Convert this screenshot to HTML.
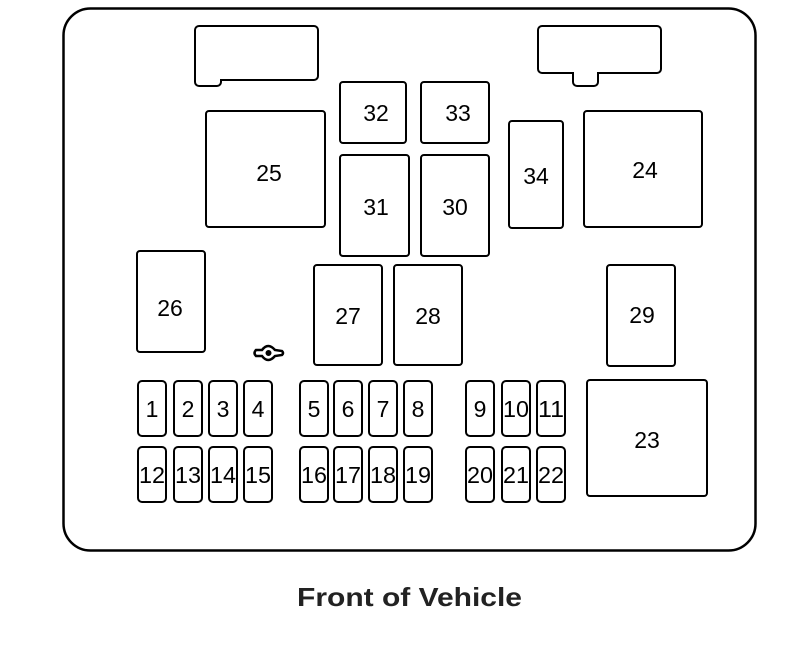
<!DOCTYPE html>
<html><head><style>html,body{margin:0;padding:0;background:#fff}svg{display:block}</style></head><body>
<svg width="799" height="672" viewBox="0 0 799 672" xmlns="http://www.w3.org/2000/svg" font-family="Liberation Sans, sans-serif">
<g fill="none" stroke="#000">
<rect x="63.5" y="8.5" width="692" height="542" rx="27" stroke-width="2.5"/>
<path d="M199 26 H314 a4 4 0 0 1 4 4 V76 a4 4 0 0 1 -4 4 H221 V82 a4 4 0 0 1 -4 4 H199 a4 4 0 0 1 -4 -4 V30 a4 4 0 0 1 4 -4 Z" stroke-width="2"/>
<path d="M542 26 H657 a4 4 0 0 1 4 4 V69 a4 4 0 0 1 -4 4 H598 V82 a4 4 0 0 1 -4 4 H577 a4 4 0 0 1 -4 -4 V73 H542 a4 4 0 0 1 -4 -4 V30 a4 4 0 0 1 4 -4 Z" stroke-width="2"/>
<g stroke-width="2">
<rect x="206" y="111" width="119" height="116" rx="3"/>
<rect x="340" y="82" width="66" height="61" rx="3"/>
<rect x="421" y="82" width="68" height="61" rx="3"/>
<rect x="340" y="155" width="69" height="101" rx="3"/>
<rect x="421" y="155" width="68" height="101" rx="3"/>
<rect x="509" y="121" width="54" height="107" rx="3"/>
<rect x="584" y="111" width="118" height="116" rx="3"/>
<rect x="137" y="251" width="68" height="101" rx="3"/>
<rect x="314" y="265" width="68" height="100" rx="3"/>
<rect x="394" y="265" width="68" height="100" rx="3"/>
<rect x="607" y="265" width="68" height="101" rx="3"/>
<rect x="587" y="380" width="120" height="116" rx="3"/>
</g>
<g stroke-width="2">
<rect x="138" y="381" width="28" height="55" rx="4"/><rect x="174" y="381" width="28" height="55" rx="4"/><rect x="209" y="381" width="28" height="55" rx="4"/><rect x="244" y="381" width="28" height="55" rx="4"/>
<rect x="300" y="381" width="28" height="55" rx="4"/><rect x="334" y="381" width="28" height="55" rx="4"/><rect x="369" y="381" width="28" height="55" rx="4"/><rect x="404" y="381" width="28" height="55" rx="4"/>
<rect x="466" y="381" width="28" height="55" rx="4"/><rect x="502" y="381" width="28" height="55" rx="4"/><rect x="537" y="381" width="28" height="55" rx="4"/>
<rect x="138" y="447" width="28" height="55" rx="4"/><rect x="174" y="447" width="28" height="55" rx="4"/><rect x="209" y="447" width="28" height="55" rx="4"/><rect x="244" y="447" width="28" height="55" rx="4"/>
<rect x="300" y="447" width="28" height="55" rx="4"/><rect x="334" y="447" width="28" height="55" rx="4"/><rect x="369" y="447" width="28" height="55" rx="4"/><rect x="404" y="447" width="28" height="55" rx="4"/>
<rect x="466" y="447" width="28" height="55" rx="4"/><rect x="502" y="447" width="28" height="55" rx="4"/><rect x="537" y="447" width="28" height="55" rx="4"/>
</g>
<path d="M262 350 Q268 342 275 350 L282 351 Q284 353 282 355 L275 356 Q268 364 262 356 L256 356 Q253 353 256 350 Z" stroke-width="2.5"/>
<circle cx="268.5" cy="353" r="2.5" fill="#000"/>
</g>
<g font-size="23" text-anchor="middle" fill="#000">
<text x="269" y="181">25</text><text x="376" y="121">32</text><text x="458" y="121">33</text>
<text x="376" y="215">31</text><text x="455" y="215">30</text><text x="536" y="184">34</text>
<text x="645" y="178">24</text><text x="170" y="316">26</text><text x="348" y="324">27</text>
<text x="428" y="324">28</text><text x="642" y="323">29</text><text x="647" y="448">23</text>
</g>
<g font-size="23" text-anchor="middle" fill="#000">
<text x="152" y="417">1</text><text x="188" y="417">2</text><text x="223" y="417">3</text><text x="258" y="417">4</text>
<text x="314" y="417">5</text><text x="348" y="417">6</text><text x="383" y="417">7</text><text x="418" y="417">8</text>
<text x="480" y="417">9</text>
</g>
<g font-size="23" fill="#000">
<text x="503" y="417" textLength="26" lengthAdjust="spacingAndGlyphs">10</text><text x="538" y="417" textLength="26" lengthAdjust="spacingAndGlyphs">11</text>
<text x="139" y="483" textLength="26" lengthAdjust="spacingAndGlyphs">12</text><text x="175" y="483" textLength="26" lengthAdjust="spacingAndGlyphs">13</text><text x="210" y="483" textLength="26" lengthAdjust="spacingAndGlyphs">14</text><text x="245" y="483" textLength="26" lengthAdjust="spacingAndGlyphs">15</text>
<text x="301" y="483" textLength="26" lengthAdjust="spacingAndGlyphs">16</text><text x="335" y="483" textLength="26" lengthAdjust="spacingAndGlyphs">17</text><text x="370" y="483" textLength="26" lengthAdjust="spacingAndGlyphs">18</text><text x="405" y="483" textLength="26" lengthAdjust="spacingAndGlyphs">19</text>
<text x="467" y="483" textLength="26" lengthAdjust="spacingAndGlyphs">20</text><text x="503" y="483" textLength="26" lengthAdjust="spacingAndGlyphs">21</text><text x="538" y="483" textLength="26" lengthAdjust="spacingAndGlyphs">22</text>
</g>
<text x="297" y="606" font-size="26" font-weight="bold" fill="#222" textLength="225" lengthAdjust="spacingAndGlyphs">Front of Vehicle</text>
</svg>
</body></html>
